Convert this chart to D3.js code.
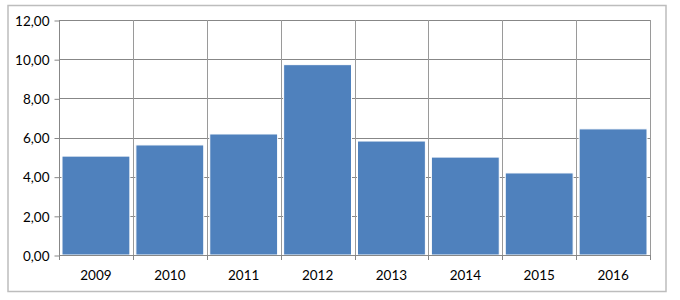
<!DOCTYPE html>
<html>
<head>
<meta charset="utf-8">
<script src="https://cdn.jsdelivr.net/npm/d3@7"></script>
<style>
  body { margin: 0; background: #fff; }
  svg text { font-family: Lato, "Open Sans", sans-serif; font-size: 13.5px; fill: #000; }
</style>
</head>
<body>
<script>
// chart data
var years = ["2009", "2010", "2011", "2012", "2013", "2014", "2015", "2016"];
var values = [5.05, 5.62, 6.18, 9.72, 5.82, 5.0, 4.19, 6.44];
var yTicks = [0, 2, 4, 6, 8, 10, 12];

var width = 680,
    height = 300;

var svg = d3.select("body")
    .append("svg")
    .attr("width", width)
    .attr("height", height);

// outer chart frame
svg.append("rect")
    .attr("x", 8)
    .attr("y", 5.5)
    .attr("width", 658)
    .attr("height", 286)
    .attr("fill", "#fff")
    .attr("stroke", "#bdbdbd")
    .attr("stroke-width", 1.5);

var plot = { left: 59, right: 650, top: 20, bottom: 255 };

var x = d3.scaleBand()
    .domain(years)
    .range([plot.left, plot.right]);

var y = d3.scaleLinear()
    .domain([0, 12])
    .range([plot.bottom, plot.top]);

var step = x.step();
var bounds = years.map(function(d){ return x(d); }).concat([plot.right]);

// horizontal gridlines
svg.selectAll(".hgrid")
    .data(yTicks.slice(1))
    .enter()
    .append("line")
    .attr("x1", plot.left)
    .attr("x2", plot.right)
    .attr("y1", function(d){ return Math.round(y(d)) + 0.5; })
    .attr("y2", function(d){ return Math.round(y(d)) + 0.5; })
    .attr("stroke", "#878787")
    .attr("stroke-width", 1);

// vertical gridlines at category boundaries
svg.selectAll(".vgrid")
    .data(bounds.slice(1))
    .enter()
    .append("line")
    .attr("x1", function(d){ return Math.round(d) + 0.5; })
    .attr("x2", function(d){ return Math.round(d) + 0.5; })
    .attr("y1", plot.top)
    .attr("y2", plot.bottom + 4)
    .attr("stroke", "#9a9a9a")
    .attr("stroke-width", 1);

// bars
svg.selectAll(".bar")
    .data(values)
    .enter()
    .append("rect")
    .attr("class", "bar")
    .attr("x", function(d, i){ return x(years[i]) + 3; })
    .attr("width", step - 6)
    .attr("y", function(d){ return y(d); })
    .attr("height", function(d){ return plot.bottom - y(d); })
    .attr("fill", "#4f81bd")
    .attr("stroke", "#ffffff")
    .attr("stroke-width", 1);

// y axis
var yAxis = d3.axisLeft(y)
    .tickValues(yTicks)
    .tickSize(5)
    .tickPadding(5)
    .tickFormat(function(d){ return d3.format(".2f")(d).replace(".", ","); });

var gy = svg.append("g")
    .attr("transform", "translate(" + (plot.left + 0.5) + ",0.5)")
    .call(yAxis);
gy.select(".domain").attr("stroke", "#878787").attr("d", "M0," + plot.top + "V" + plot.bottom);
gy.selectAll(".tick line").attr("stroke", "#878787");
gy.selectAll("text").attr("dy", "0.35em");

// x axis baseline and ticks
svg.append("line")
    .attr("x1", plot.left)
    .attr("x2", plot.right)
    .attr("y1", plot.bottom + 0.5)
    .attr("y2", plot.bottom + 0.5)
    .attr("stroke", "#878787");

svg.selectAll(".xtick")
    .data(bounds)
    .enter()
    .append("line")
    .attr("x1", function(d){ return Math.round(d) + 0.5; })
    .attr("x2", function(d){ return Math.round(d) + 0.5; })
    .attr("y1", plot.bottom)
    .attr("y2", plot.bottom + 5)
    .attr("stroke", "#878787");

svg.selectAll(".xlabel")
    .data(years)
    .enter()
    .append("text")
    .attr("x", function(d){ return x(d) + step / 2; })
    .attr("y", 280)
    .attr("text-anchor", "middle")
    .text(function(d){ return d; });
</script>
</body>
</html>
